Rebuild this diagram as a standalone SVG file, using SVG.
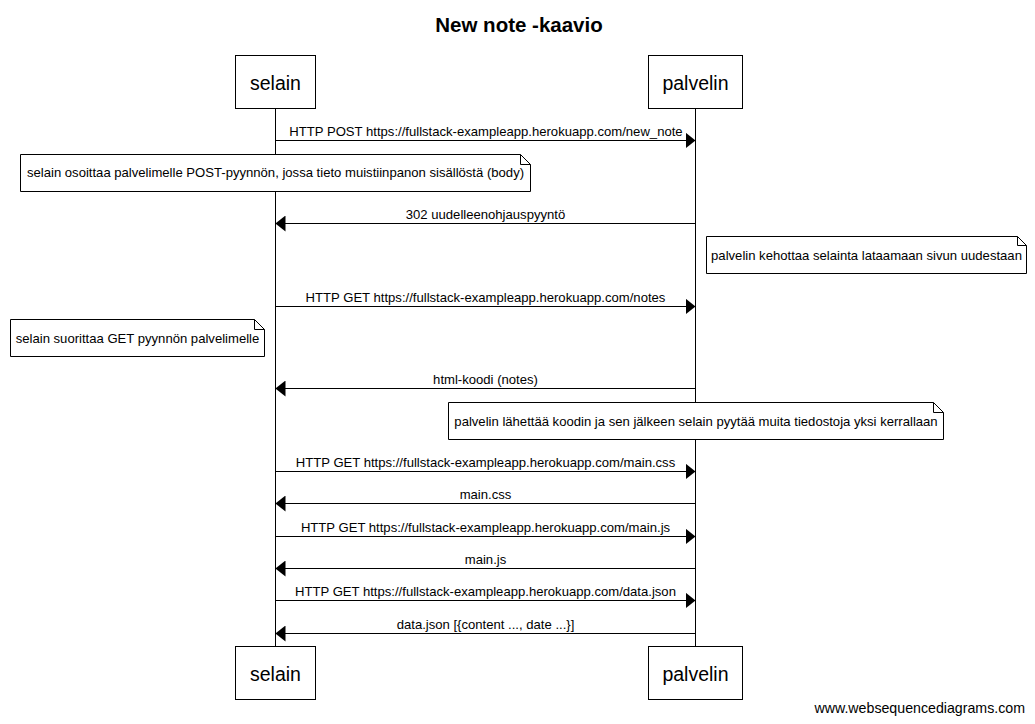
<svg xmlns="http://www.w3.org/2000/svg" width="1035" height="724" viewBox="0 0 1035 724">
<defs>
<style>
text{font-family:"Liberation Sans",Arial,sans-serif;fill:#000}
.title{font-size:20.5px;font-weight:bold;text-anchor:middle}
.actor rect{fill:#fff;stroke:#000;stroke-width:1}
.actor text{font-size:19.5px;text-anchor:middle}
.life{stroke:#000;stroke-width:1;fill:none}
.msg line{stroke:#000;stroke-width:1}
.msg text{font-size:13.1px;text-anchor:middle}
.note path{fill:#fff;stroke:#000;stroke-width:1}
.note text{font-size:13.1px;text-anchor:middle}
.wm{font-size:14.2px;text-anchor:end}
</style>
<marker id="ah" viewBox="0 0 10 16" refX="10" refY="8" markerWidth="10" markerHeight="16" markerUnits="userSpaceOnUse" orient="auto">
<path d="M0,0 L10,8 L0,16 Z" fill="#000"/>
</marker>
</defs>
<rect width="1035" height="724" fill="#fff"/>
<text class="title" x="519" y="31.5">New note -kaavio</text>

<g id="lifelines">
<line class="life" x1="275.5" y1="108" x2="275.5" y2="646"/>
<line class="life" x1="695.5" y1="108" x2="695.5" y2="646"/>
</g>

<g id="selain-top" class="actor"><rect x="235.5" y="55.5" width="80" height="53"/><text x="275.5" y="90">selain</text></g>
<g id="palvelin-top" class="actor"><rect x="648.5" y="55.5" width="94" height="53"/><text x="695.5" y="90">palvelin</text></g>
<g id="selain-bottom" class="actor"><rect x="235.5" y="646.5" width="80" height="53"/><text x="275.5" y="681">selain</text></g>
<g id="palvelin-bottom" class="actor"><rect x="648.5" y="646.5" width="94" height="53"/><text x="695.5" y="681">palvelin</text></g>

<g id="connectors" class="msg">
<line x1="275.5" y1="140.5" x2="695.5" y2="140.5" marker-end="url(#ah)"/>
<text x="486" y="135.5">HTTP POST https://fullstack-exampleapp.herokuapp.com/new_note</text>
<line x1="695.5" y1="223.5" x2="275.5" y2="223.5" marker-end="url(#ah)"/>
<text x="485.5" y="218.5">302 uudelleenohjauspyyntö</text>
<line x1="275.5" y1="306.5" x2="695.5" y2="306.5" marker-end="url(#ah)"/>
<text x="485.5" y="301.5">HTTP GET https://fullstack-exampleapp.herokuapp.com/notes</text>
<line x1="695.5" y1="388.5" x2="275.5" y2="388.5" marker-end="url(#ah)"/>
<text x="485.5" y="383.5">html-koodi (notes)</text>
<line x1="275.5" y1="471.5" x2="695.5" y2="471.5" marker-end="url(#ah)"/>
<text x="485.5" y="466.5">HTTP GET https://fullstack-exampleapp.herokuapp.com/main.css</text>
<line x1="695.5" y1="503.5" x2="275.5" y2="503.5" marker-end="url(#ah)"/>
<text x="485.5" y="498.5">main.css</text>
<line x1="275.5" y1="536.5" x2="695.5" y2="536.5" marker-end="url(#ah)"/>
<text x="485.5" y="531.5">HTTP GET https://fullstack-exampleapp.herokuapp.com/main.js</text>
<line x1="695.5" y1="568.5" x2="275.5" y2="568.5" marker-end="url(#ah)"/>
<text x="485.5" y="563.5">main.js</text>
<line x1="275.5" y1="600.5" x2="695.5" y2="600.5" marker-end="url(#ah)"/>
<text x="485.5" y="595.5">HTTP GET https://fullstack-exampleapp.herokuapp.com/data.json</text>
<line x1="695.5" y1="633.5" x2="275.5" y2="633.5" marker-end="url(#ah)"/>
<text x="485.5" y="628.5">data.json [{content ..., date ...}]</text>
</g>

<g id="note1" class="note">
<path d="M20.5,154.5 H520.5 L530.5,164.5 V191.5 H20.5 Z M520.5,154.5 V164.5 H530.5"/>
<text x="275.5" y="177">selain osoittaa palvelimelle POST-pyynnön, jossa tieto muistiinpanon sisällöstä (body)</text>
</g>
<g id="note2" class="note">
<path d="M706.5,236.5 H1017.5 L1026.5,245.5 V273.5 H706.5 Z M1017.5,236.5 V245.5 H1026.5"/>
<text x="866.5" y="260">palvelin kehottaa selainta lataamaan sivun uudestaan</text>
</g>
<g id="note3" class="note">
<path d="M10.5,319.5 H254.5 L264.5,329.5 V356.5 H10.5 Z M254.5,319.5 V329.5 H264.5"/>
<text x="137.5" y="343">selain suorittaa GET pyynnön palvelimelle</text>
</g>
<g id="note4" class="note">
<path d="M448.5,402.5 H933.5 L943.5,412.5 V439.5 H448.5 Z M933.5,402.5 V412.5 H943.5"/>
<text x="696" y="425.5">palvelin lähettää koodin ja sen jälkeen selain pyytää muita tiedostoja yksi kerrallaan</text>
</g>

<text class="wm" x="1025" y="713">www.websequencediagrams.com</text>
</svg>
